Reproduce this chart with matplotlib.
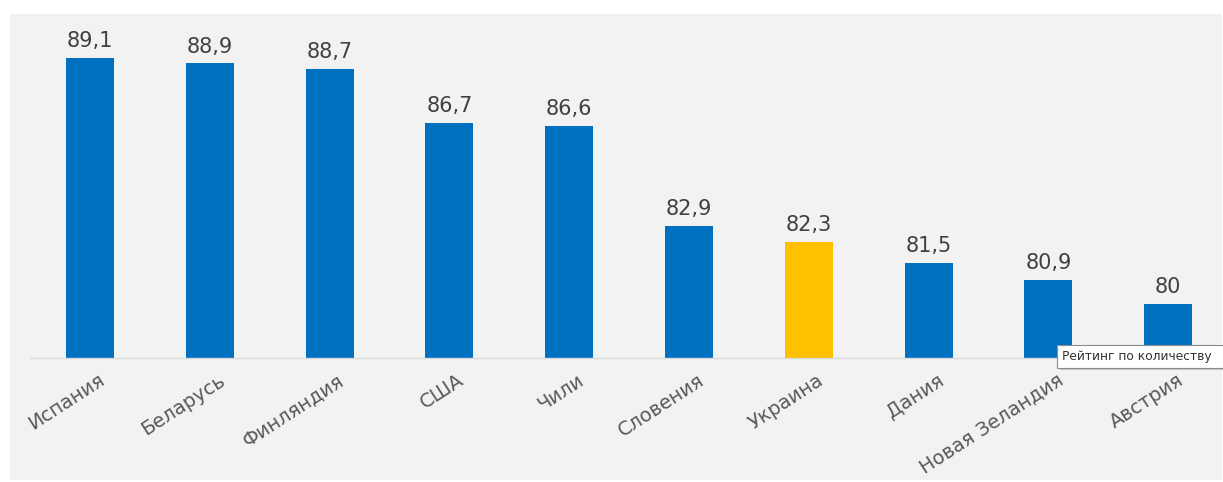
import matplotlib
matplotlib.use('Agg')
import matplotlib.pyplot as plt
from matplotlib.patches import Rectangle
from matplotlib.transforms import ScaledTranslation

countries = ['Испания', 'Беларусь', 'Финляндия', 'США', 'Чили', 'Словения',
             'Украина', 'Дания', 'Новая Зеландия', 'Австрия']
values = [89.1, 88.9, 88.7, 86.7, 86.6, 82.9, 82.3, 81.5, 80.9, 80.0]
labels = ['89,1', '88,9', '88,7', '86,7', '86,6', '82,9', '82,3', '81,5', '80,9', '80']
highlight = 'Украина'

plt.rcParams['font.family'] = ['DejaVu Sans']

W, H = 1223, 482
fig = plt.figure(figsize=(W / 100, H / 100), dpi=100)
fig.patch.set_facecolor('white')

# grey panel behind the chart
fig.patches.append(Rectangle((10 / W, 2 / H), (W - 11) / W, (H - 16) / H,
                             transform=fig.transFigure, facecolor='#f2f2f2',
                             edgecolor='none', zorder=-5))

ax = fig.add_axes([30 / W, (H - 358) / H, (1221 - 30) / W, (358 - 14) / H])
ax.set_facecolor('none')
ax.set_zorder(1)

colors = ['#ffc000' if c == highlight else '#0070c0' for c in countries]
x = list(range(len(countries)))
ax.bar(x, values, width=0.4, color=colors, zorder=2)

for xi, v, lab in zip(x, values, labels):
    ax.annotate(lab, (xi, v), xytext=(0, 5), textcoords='offset points',
                ha='center', va='bottom', fontsize=15, color='#404040')

ax.set_xlim(-0.5, 9.44)
ax.set_ylim(78, 90.73)

for s in ['top', 'right', 'left']:
    ax.spines[s].set_visible(False)
ax.spines['bottom'].set_color('#d9d9d9')
ax.spines['bottom'].set_linewidth(1.0)
ax.set_yticks([])
ax.set_xticks(x)
ax.set_xticklabels(countries, rotation=33, ha='right', rotation_mode='anchor',
                   fontsize=14, color='#595959')
ax.tick_params(axis='x', length=0, pad=9)
shift = ScaledTranslation(0.08, 0, fig.dpi_scale_trans)
for t in ax.get_xticklabels():
    t.set_transform(t.get_transform() + shift)

# tooltip left on the screenshot
fig.patches.append(Rectangle((1060 / W, (H - 370) / H), 170 / W, 23 / H,
                             transform=fig.transFigure, facecolor='#c8c8c8',
                             edgecolor='none', zorder=4))
fig.patches.append(Rectangle((1057 / W, (H - 368) / H), 170 / W, 23 / H,
                             transform=fig.transFigure, facecolor='white',
                             edgecolor='#8c8c8c', linewidth=0.8, zorder=4))
fig.text(1062 / W, (H - 356.5) / H, 'Рейтинг по количеству', fontsize=8.8,
         color='#333333', va='center', ha='left', zorder=5)

plt.savefig('out.png', dpi=100)
